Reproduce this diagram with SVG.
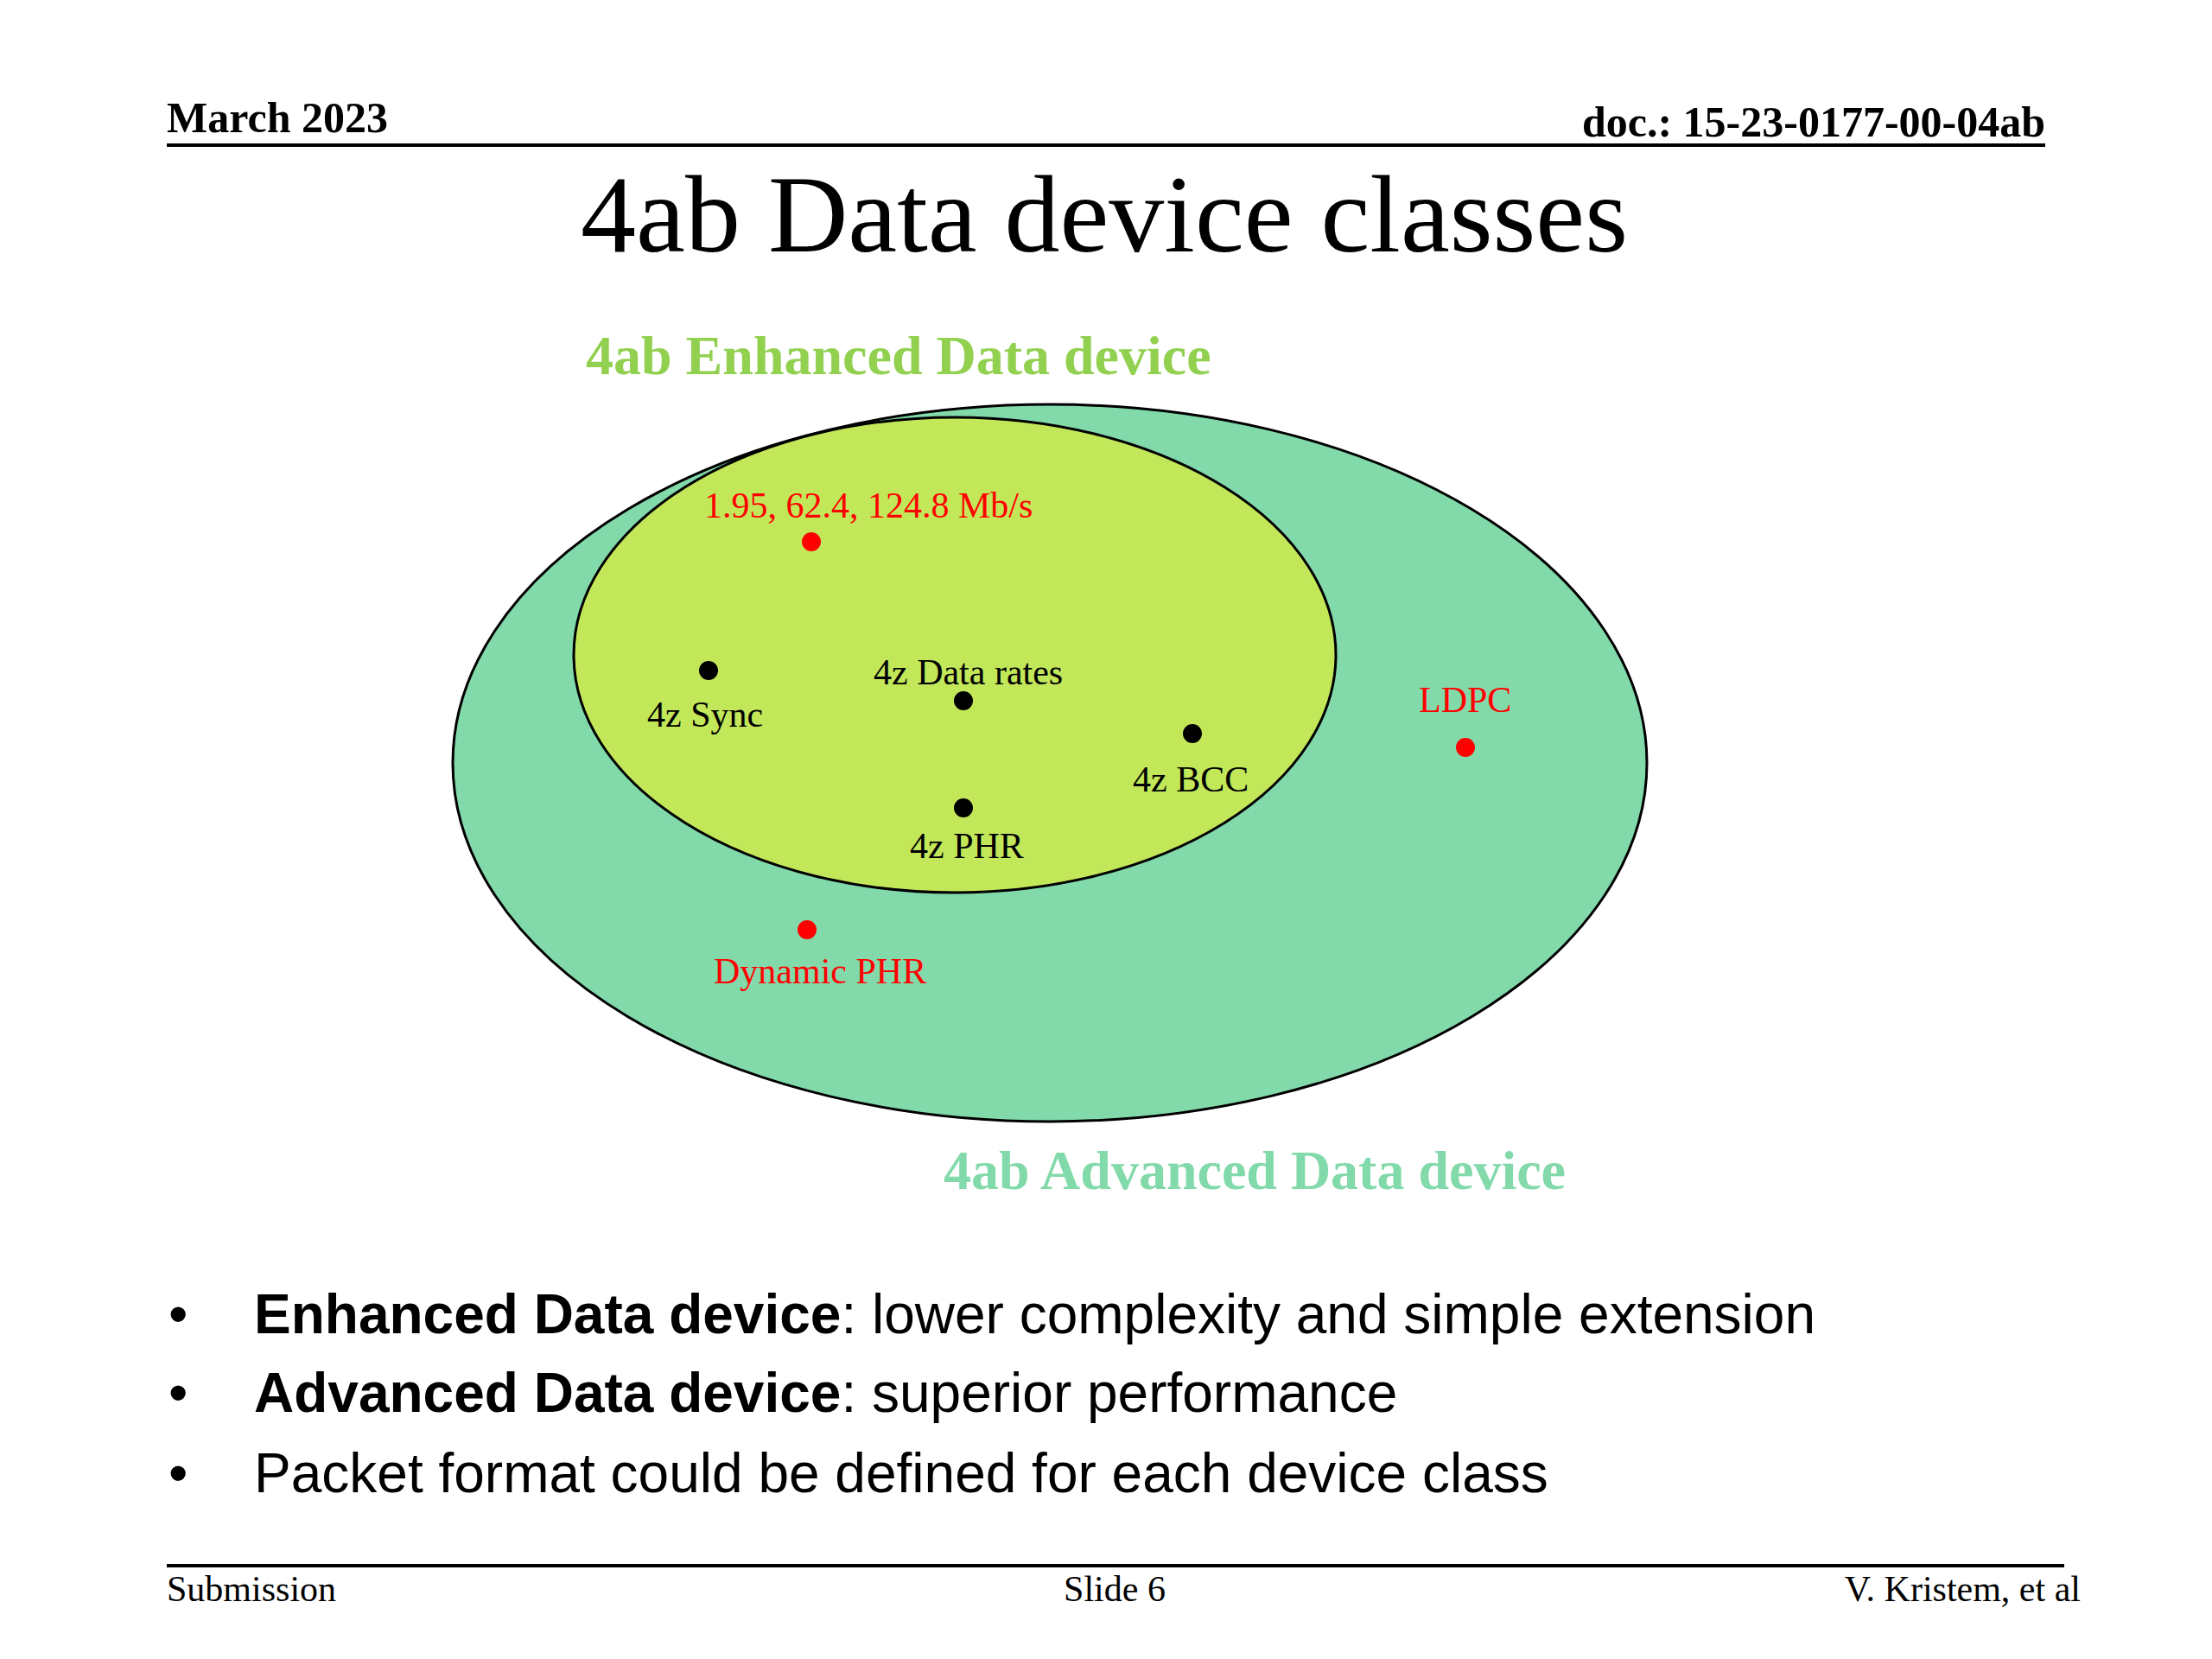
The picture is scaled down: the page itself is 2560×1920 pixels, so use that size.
<svg xmlns="http://www.w3.org/2000/svg" width="2560" height="1920" viewBox="0 0 2560 1920">
<style>
.hdr{font-family:"Liberation Serif","Times New Roman",serif;font-weight:bold;font-size:50px;fill:#000}
.ftr{font-family:"Liberation Serif","Times New Roman",serif;font-size:42px;fill:#000}
.title{font-family:"Liberation Serif","Times New Roman",serif;font-size:128px;fill:#000}
.cls{font-family:"Liberation Serif","Times New Roman",serif;font-weight:bold;font-size:64px}
.lbl{font-family:"Liberation Serif","Times New Roman",serif;font-size:42px;fill:#000}
.red{fill:#FF0000}
.bul{font-family:"Liberation Sans",Arial,sans-serif;font-size:64px;fill:#000}
.dot{fill:#000}
.rdot{fill:#FF0000}
.ell{stroke:#000;stroke-width:3}
</style>
<rect width="2560" height="1920" fill="#fff"/>
<g id="header">
<text class="hdr" x="193" y="153">March 2023</text>
<text class="hdr" x="2367" y="158" text-anchor="end">doc.: 15-23-0177-00-04ab</text>
<line x1="193" y1="168" x2="2367" y2="168" stroke="#000" stroke-width="4"/>
</g>
<text id="title" class="title" x="1278" y="291" text-anchor="middle">4ab Data device classes</text>
<g id="advanced">
<ellipse class="ell" cx="1215" cy="883" rx="691" ry="415" fill="#82D9AA"/>
</g>
<g id="enhanced">
<ellipse class="ell" cx="1105" cy="758" rx="441" ry="275" fill="#C2E85A"/>
</g>
<text id="enhanced-label" class="cls" x="678" y="433" fill="#92D050">4ab Enhanced Data device</text>
<text id="advanced-label" class="cls" x="1092" y="1376" fill="#82D9AA">4ab Advanced Data device</text>
<g id="connectors"></g>
<g id="rates">
<circle class="rdot" cx="939" cy="627" r="11"/>
<text class="lbl red" x="815" y="599">1.95, 62.4, 124.8 Mb/s</text>
</g>
<g id="sync">
<circle class="dot" cx="820" cy="776" r="11"/>
<text class="lbl" x="749" y="841">4z Sync</text>
</g>
<g id="datarates">
<circle class="dot" cx="1115" cy="811" r="11"/>
<text class="lbl" x="1011" y="792">4z Data rates</text>
</g>
<g id="bcc">
<circle class="dot" cx="1380" cy="849" r="11"/>
<text class="lbl" x="1311" y="916">4z BCC</text>
</g>
<g id="phr">
<circle class="dot" cx="1115" cy="935" r="11"/>
<text class="lbl" x="1053" y="993">4z PHR</text>
</g>
<g id="ldpc">
<circle class="rdot" cx="1696" cy="865" r="11"/>
<text class="lbl red" x="1642" y="824">LDPC</text>
</g>
<g id="dynphr">
<circle class="rdot" cx="934" cy="1076" r="11"/>
<text class="lbl red" x="826" y="1138">Dynamic PHR</text>
</g>
<g id="bullets">
<text class="bul" x="195" y="1543">•</text>
<text class="bul" x="294" y="1543"><tspan font-weight="bold">Enhanced Data device</tspan>: lower complexity and simple extension</text>
<text class="bul" x="195" y="1634">•</text>
<text class="bul" x="294" y="1634"><tspan font-weight="bold">Advanced Data device</tspan>: superior performance</text>
<text class="bul" x="195" y="1727">•</text>
<text class="bul" x="294" y="1727">Packet format could be defined for each device class</text>
</g>
<g id="footer">
<line x1="193" y1="1812" x2="2389" y2="1812" stroke="#000" stroke-width="4"/>
<text class="ftr" x="193" y="1853">Submission</text>
<text class="ftr" x="1290" y="1853" text-anchor="middle">Slide 6</text>
<text class="ftr" x="2408" y="1853" text-anchor="end">V. Kristem, et al</text>
</g>
</svg>
